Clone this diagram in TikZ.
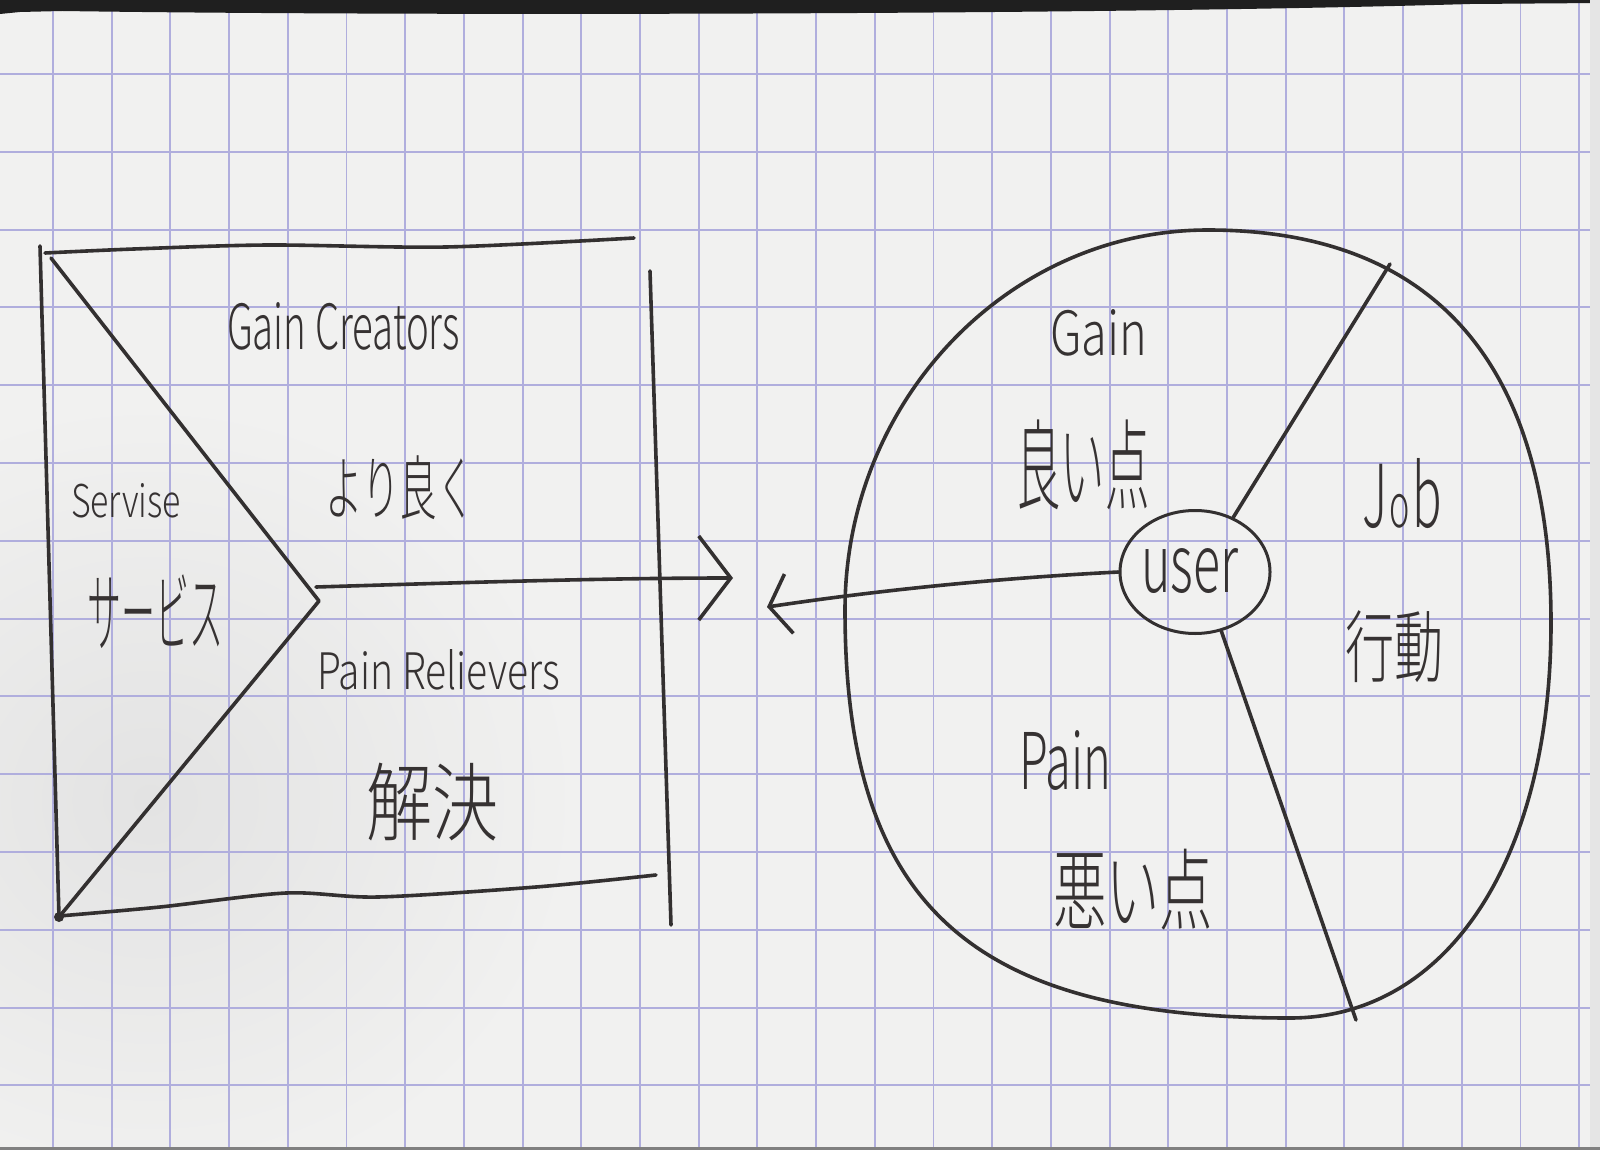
\documentclass[tikz,border=0pt]{standalone}
\usepackage{graphicx}
\usepackage{fontspec}
\setmainfont{Noto Sans CJK JP}[UprightFont={* Light}]
\usetikzlibrary{arrows.meta,shapes.geometric}
\definecolor{paper}{HTML}{F1F1F0}
\definecolor{gridc}{HTML}{B0AEDD}
\definecolor{pen}{HTML}{333030}
\definecolor{pentext}{HTML}{363232}
\newcommand{\hw}[3]{\resizebox{#1pt}{#2pt}{#3}}
\newcommand{\hwj}[3]{\resizebox*{#1pt}{#2pt}{#3}}
\begin{document}
\begin{tikzpicture}[x=1pt,y=-1pt,
  inkline/.style={draw=pen,line width=3.6pt,line cap=round,line join=round},
  lat/.style={text=pentext,inner sep=0pt,outer sep=0pt,anchor=base west},
  jp/.style={text=pentext,inner sep=0pt,outer sep=0pt,anchor=center},
  gridline/.style={draw=gridc,line width=1.9pt}]
\useasboundingbox (0,0) rectangle (1600,1150);
% paper
\fill[paper] (0,0) rectangle (1600,1150);
\begin{scope}
\clip (0,0) rectangle (1600,1150);
\shade[inner color=black!11, outer color=paper] (150,800) ellipse [x radius=430, y radius=400];
\end{scope}
% grid
\foreach \k in {0,...,26} \draw[gridline] ({53+58.7*\k},0) -- ({53+58.7*\k},1150);
\foreach \k in {0,...,13} \draw[gridline] (0,{74+77.8*\k}) -- (1600,{74+77.8*\k});
% photo edges
\fill[black!88] (0,0) -- (1600,0) -- (1600,3) -- (1470,4) .. controls (1100,15) and (400,16) .. (62,11) -- (20,12) -- (0,14) -- cycle;
\fill[black!10] (1590,0) rectangle (1600,1150);
\fill[black!50] (0,1147) rectangle (1600,1150);

% coordinates
\coordinate (TL) at (40,246);
\coordinate (TLd) at (51,258);
\coordinate (BL) at (59,917);
\coordinate (V) at (319,601);
\coordinate (S) at (316,587);
\coordinate (RT) at (650,271);
\coordinate (RB) at (671,925);
\coordinate (A1) at (733,578);
\coordinate (A2) at (767,607);
\coordinate (J1) at (1390,264);
\coordinate (J2) at (1356,1020);
\coordinate (CT) at (1208,230);
\coordinate (CR) at (1551,623);
\coordinate (CB) at (1290,1018);
\coordinate (CL) at (845,610);

% left figure (value proposition)
\draw[inkline] (TL) -- (BL);
\draw[inkline] plot[smooth] coordinates {(45,253) (134,249) (268,245) (446,247) (634,238)};
\draw[inkline] (TLd) -- (V) -- (BL);
\draw[inkline] plot[smooth] coordinates {(59,916) (160,907) (286,893) (378,897) (536,887) (656,875)};
\draw[inkline] (RT) -- (RB);
\fill[pen] (BL) circle (5);

% right figure (customer)
\draw[inkline] (CT) .. controls (1434,230) and (1551,364) .. (CR)
  .. controls (1551,860) and (1447,1018) .. (CB)
  .. controls (970,1018) and (845,904) .. (CL)
  .. controls (845,401) and (1008,230) .. (CT) -- cycle;
\node[draw=pen, line width=3pt, ellipse, minimum width=150pt, minimum height=123pt, inner sep=0pt] (user) at (1195,572) {};
\node[lat] (usert) at (1141,592) {\hw{97}{44}{user}};
\draw[inkline] (user.55) -- (J1);
\draw[inkline] (user.-66) -- (J2);

% arrows
\draw[inkline, -{Straight Barb[length=32pt,width=84pt]}] (S) .. controls (450,583) and (600,578) .. (A1);
\draw[inkline, -{Straight Barb[length=20pt,width=60pt]}] (user.west) .. controls (1000,578) and (880,590) .. (A2);

% labels
\node[lat] (gaincr) at (227,349) {\hw{233}{47}{Gain Creators}};
\node[lat] (servise) at (71,517) {\hw{110}{34}{Servise}};
\node[lat] (painrel) at (317,689) {\hw{243}{40}{Pain Relievers}};
\node[lat] (gain) at (1050,355) {\hw{97}{46}{Gain}};
\node[lat] (pain) at (1019,789) {\hw{92}{59}{Pain}};
\node[lat] (job) at (1362,527) {\hw{80}{69}{J\kern0.05em{\scriptsize o}\kern0.05em b}};
\node[jp] (yoriyoku) at (400,488) {\hwj{149}{64}{より良く}};
\node[jp] (service) at (155,612) {\hwj{136}{74}{サービス}};
\node[jp] (kaiketsu) at (432,802) {\hwj{132}{78}{解決}};
\node[jp] (yoiten) at (1083,465) {\hwj{133}{90}{良い点}};
\node[jp] (koudou) at (1394,647) {\hwj{98}{72}{行動}};
\node[jp] (waruiten) at (1133,890) {\hwj{160}{81}{悪い点}};
\end{tikzpicture}
\end{document}
